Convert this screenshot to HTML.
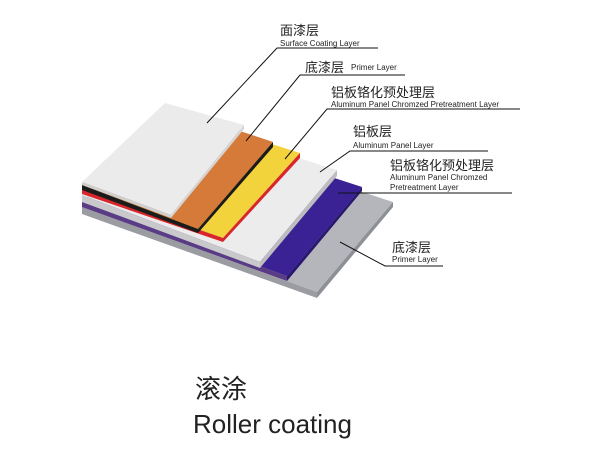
<!DOCTYPE html>
<html><head><meta charset="utf-8"><style>
html,body{margin:0;padding:0;background:#fff;}
svg{display:block;}
.cn{font-family:"Liberation Sans","Noto Sans CJK SC",sans-serif;fill:#222;}
.en{font-family:"Liberation Sans",sans-serif;fill:#222;}
</style></head><body>
<svg width="600" height="450" viewBox="0 0 600 450" xmlns="http://www.w3.org/2000/svg">
<!-- bottom grey primer -->
<polygon points="165,128 393,202 317,292 82,207" fill="#b4b6bb"/>
<polygon points="82,207 317,292 317,298 82,214" fill="#9a9ca2"/>
<polygon points="393,202 393,207 317,298 317,292" fill="#8d9096"/>
<!-- purple -->
<polygon points="165,123 362,187 287,276 82,202" fill="#3a2294"/>
<polygon points="82,202 287,276 287,281 82,207" fill="#5a3c86"/>
<polygon points="362,187 362,191 287,281 287,276" fill="#2a1870"/>
<!-- aluminum core -->
<polygon points="165,116 337,170 260,262 82,195" fill="#ececec"/>
<polygon points="82,195 260,262 260,268 82,202" fill="#c9c9cc"/>
<polygon points="337,170 337,176 260,268 260,262" fill="#bdbdc0"/>
<!-- yellow/red -->
<polygon points="165,110 300,153 223,238 82,189" fill="#f2d33c"/>
<polygon points="82,189 223,238 223,242 82,194" fill="#d8262a"/>
<polygon points="300,153 300,158 223,242 223,238" fill="#d8262a"/>
<!-- orange/black -->
<polygon points="165,106 273,142 198,229 82,185" fill="#d67a3a"/>
<polygon points="82,185 198,229 198,233 82,190" fill="#1b1b1b"/>
<polygon points="273,142 273,147 198,233 198,229" fill="#1b1b1b"/>
<!-- white top -->
<polygon points="165,103 244,125 171,215 82,182" fill="#ebebeb"/>
<polygon points="82,182 171,215 171,218 82,185" fill="#cfcfcf"/>
<polygon points="244,125 244,129 171,218 171,215" fill="#d5d5d5"/>

<g stroke="#111" stroke-width="1" fill="none">
<polyline points="207,123 277,48 378,48"/>
<polyline points="246,141 300,75 405,75"/>
<polyline points="285,159 327,109 520,109"/>
<polyline points="320,172 350,151 488,151"/>
<polyline points="338,193 512,193"/>
<polyline points="340,242 385,266 443,266"/>
</g>

<text class="cn" x="280" y="35" font-size="13">面漆层</text>
<text class="en" x="280" y="46" font-size="8">Surface Coating Layer</text>
<text class="cn" x="305" y="72" font-size="13">底漆层</text>
<text class="en" x="351" y="70" font-size="8">Primer Layer</text>
<text class="cn" x="331" y="97" font-size="13">铝板铬化预处理层</text>
<text class="en" x="331" y="107" font-size="8">Aluminum Panel Chromzed Pretreatment Layer</text>
<text class="cn" x="353" y="136" font-size="13">铝板层</text>
<text class="en" x="353" y="148" font-size="8">Aluminum Panel Layer</text>
<text class="cn" x="390" y="170" font-size="13">铝板铬化预处理层</text>
<text class="en" x="390" y="180" font-size="8">Aluminum Panel Chromzed</text>
<text class="en" x="390" y="190" font-size="8">Pretreatment Layer</text>
<text class="cn" x="392" y="252" font-size="13">底漆层</text>
<text class="en" x="392" y="262" font-size="8">Primer Layer</text>

<text class="cn" x="195" y="398" font-size="26">滚涂</text>
<text class="en" x="193" y="433" font-size="26">Roller coating</text>
</svg>
</body></html>
